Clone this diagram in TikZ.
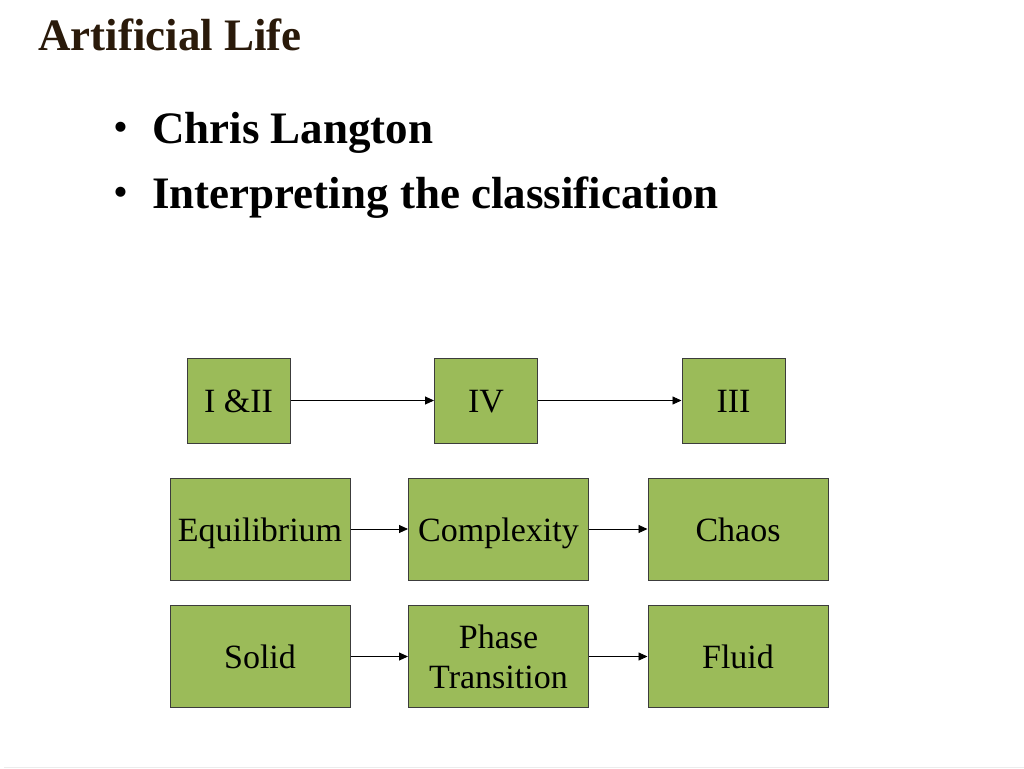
\documentclass[tikz,border=0pt]{standalone}
\usepackage{fontspec}
\setmainfont{Liberation Serif}
\usetikzlibrary{arrows.meta}
\definecolor{boxgreen}{RGB}{155,187,89}
\definecolor{boxedge}{RGB}{60,60,60}
\definecolor{titlebrown}{RGB}{42,26,10}
\tikzset{
  gbox/.style={rectangle, draw=boxedge, line width=1pt, fill=boxgreen, inner sep=0pt,
    font=\fontsize{34}{40}\selectfont, align=center},
  oneline/.style={text height=26pt, text depth=2pt},
  smallbox/.style={gbox, oneline, minimum width=103pt, minimum height=85pt},
  bigbox/.style={gbox, minimum width=180pt, minimum height=102pt},
  flow/.style={-{Triangle[length=9pt,width=8pt]}, line width=0.9pt, black},
  bulletmark/.style={anchor=base west, inner sep=0pt, font=\fontsize{37}{40}\selectfont\bfseries},
  bullettext/.style={anchor=base west, inner sep=0pt, font=\fontsize{45}{50}\selectfont\bfseries}
}
\begin{document}
\begin{tikzpicture}[x=1pt,y=-1pt]
\useasboundingbox (0,0) rectangle (1024,768);
\fill[white] (0,0) rectangle (1024,768);
\draw[gray!15, line width=1pt] (4,767) -- (1024,767);
% title
\node[anchor=base west, inner sep=0pt, text=titlebrown, font=\fontsize{45}{50}\selectfont\bfseries] (title) at (38,51) {Artificial Life};
% bullets
\node[bulletmark] (b1) at (114,139) {•};
\node[bullettext] (t1) at (152,143) {Chris Langton};
\node[bulletmark] (b2) at (114,204) {•};
\node[bullettext] (t2) at (152,208) {Interpreting the classification};
% row 1
\node[smallbox] (r1a) at (238.5,400.5) {I \&II};
\node[smallbox] (r1b) at (486,400.5) {IV};
\node[smallbox] (r1c) at (733.5,400.5) {III};
% row 2
\node[bigbox, oneline] (r2a) at (260,529) {Equilibrium};
\node[bigbox, oneline] (r2b) at (498.5,529) {Complexity};
\node[bigbox, oneline] (r2c) at (738,529) {Chaos};
% row 3
\node[bigbox, oneline] (r3a) at (260,656.5) {Solid};
\node[bigbox] (r3b) at (498.5,656.5) {Phase\\Transition};
\node[bigbox, oneline] (r3c) at (738,656.5) {Fluid};
% arrows
\draw[flow] (r1a) -- (r1b);
\draw[flow] (r1b) -- (r1c);
\draw[flow] (r2a) -- (r2b);
\draw[flow] (r2b) -- (r2c);
\draw[flow] (r3a) -- (r3b);
\draw[flow] (r3b) -- (r3c);
\end{tikzpicture}
\end{document}
